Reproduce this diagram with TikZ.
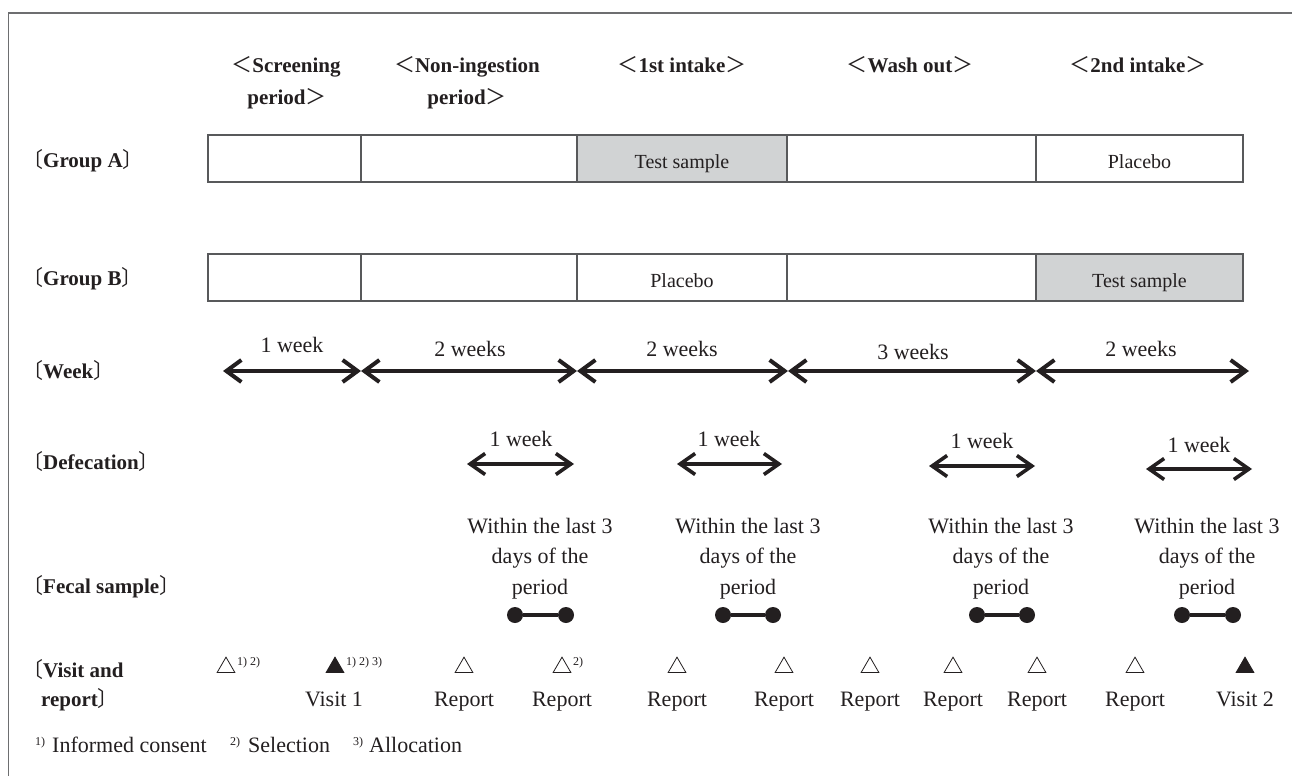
\documentclass[tikz,border=0pt]{standalone}
\usepackage{fontspec}
\setmainfont{Liberation Serif}
\newfontfamily\cjkf{Noto Sans CJK JP}
\usetikzlibrary{arrows.meta,shapes.geometric}
\definecolor{ink}{HTML}{231F20}
\definecolor{framec}{HTML}{6D6E70}
\definecolor{barc}{HTML}{58595B}
\definecolor{fillc}{HTML}{D1D3D4}
\newcommand{\fsz}[1]{\fontsize{#1}{#1}\selectfont}
\newcommand{\LB}{{\cjkf\mdseries 〔}}
\newcommand{\RB}{{\cjkf\mdseries 〕}}
\newcommand{\LA}{{\cjkf\mdseries ＜}}
\newcommand{\RA}{{\cjkf\mdseries ＞}}
\begin{document}
\begin{tikzpicture}[x=1pt,y=-1pt,
  txt/.style={inner sep=0pt, anchor=base, text=ink, font=\fsz{22}},
  hdr/.style={inner sep=0pt, anchor=base, text=ink, font=\fsz{21}\bfseries},
  rowlab/.style={inner sep=0pt, anchor=base west, text=ink, font=\fsz{21}\bfseries},
  bartxt/.style={inner sep=0pt, anchor=base, text=ink, font=\fsz{20}},
  cell/.style={draw=barc, line width=1.3pt, inner sep=0pt, minimum height=47pt},
  tipw/.tip={Straight Barb[length=15pt,width=22pt]},
  tipd/.tip={Straight Barb[length=15pt,width=21pt]},
  warrow/.style={draw=ink, line width=4pt, tipw-tipw},
  darrow/.style={draw=ink, line width=3.6pt, tipd-tipd},
  bar/.style={draw=ink, line width=3.4pt},
  dot/.style={circle, fill=ink, minimum size=16pt, inner sep=0pt},
  otri/.style={regular polygon, regular polygon sides=3, draw=ink, line width=0.8pt, minimum size=20.5pt, inner sep=0pt},
  ftri/.style={otri, fill=ink},
  supt/.style={inner sep=0pt, anchor=base west, text=ink, font=\fsz{12}},
  foot/.style={inner sep=0pt, anchor=base west, text=ink, font=\fsz{22}},
]
\useasboundingbox (0,0) rectangle (1292,776);
\fill[white] (0,0) rectangle (1292,776);
% frame
\coordinate (fbl) at (8.5,776);
\coordinate (ftl) at (8.5,13);
\coordinate (ftr) at (1292,13);
\draw[framec, line width=1.5pt] (fbl) -- (ftl) -- (ftr);

% headers
\node[hdr] (h1a) at (286,72) {\LA Screening};
\node[hdr] (h1b) at (287,104) {period\RA};
\node[hdr] (h2a) at (467,72) {\LA Non-ingestion};
\node[hdr] (h2b) at (467,104) {period\RA};
\node[hdr] (h3) at (682,72) {\LA 1st intake\RA};
\node[hdr] (h4) at (910,72) {\LA Wash out\RA};
\node[hdr] (h5) at (1138,72) {\LA 2nd intake\RA};

% row labels
\node[rowlab] (lA) at (22,167) {\LB Group A\RB};
\node[rowlab] (lB) at (22,285) {\LB Group B\RB};
\node[rowlab] (lW) at (22,378) {\LB Week\RB};
\node[rowlab] (lD) at (22,469) {\LB Defecation\RB};
\node[rowlab] (lF) at (22,593) {\LB Fecal sample\RB};
\node[rowlab] (lV1) at (22,677) {\LB Visit and};
\node[rowlab] (lV2) at (41,706) {report\RB};

% Group A bar
\node[cell, minimum width=153pt] (a1) at (284.5,158.5) {};
\node[cell, minimum width=216pt] (a2) at (469,158.5) {};
\node[cell, minimum width=210pt, fill=fillc] (a3) at (682,158.5) {};
\node[cell, minimum width=249pt] (a4) at (911.5,158.5) {};
\node[cell, minimum width=207pt] (a5) at (1139.5,158.5) {};
\node[bartxt] (ta3) at (682,168.5) {Test sample};
\node[bartxt] (ta5) at (1139.5,168.5) {Placebo};

% Group B bar
\node[cell, minimum width=153pt] (b1) at (284.5,277.5) {};
\node[cell, minimum width=216pt] (b2) at (469,277.5) {};
\node[cell, minimum width=210pt] (b3) at (682,277.5) {};
\node[cell, minimum width=249pt] (b4) at (911.5,277.5) {};
\node[cell, minimum width=207pt, fill=fillc] (b5) at (1139.5,277.5) {};
\node[bartxt] (tb3) at (682,287.5) {Placebo};
\node[bartxt] (tb5) at (1139.5,287.5) {Test sample};

% Week arrows
\coordinate (w0) at (223,371);
\coordinate (w1) at (361,371);
\coordinate (w2) at (577,371);
\coordinate (w3) at (788,371);
\coordinate (w4) at (1036,371);
\coordinate (w5) at (1249,371);
\draw[warrow] (w0) -- (w1);
\draw[warrow] (w1) -- (w2);
\draw[warrow] (w2) -- (w3);
\draw[warrow] (w3) -- (w4);
\draw[warrow] (w4) -- (w5);
\node[txt] (wl1) at (292,352) {1 week};
\node[txt] (wl2) at (470,356) {2 weeks};
\node[txt] (wl3) at (682,356) {2 weeks};
\node[txt] (wl4) at (913,359) {3 weeks};
\node[txt] (wl5) at (1141,356) {2 weeks};

% Defecation arrows
\coordinate (d1a) at (467,464); \coordinate (d1b) at (574,464);
\coordinate (d2a) at (677,464); \coordinate (d2b) at (782,464);
\coordinate (d3a) at (929,466); \coordinate (d3b) at (1035,466);
\coordinate (d4a) at (1146,469); \coordinate (d4b) at (1252,469);
\draw[darrow] (d1a) -- (d1b);
\draw[darrow] (d2a) -- (d2b);
\draw[darrow] (d3a) -- (d3b);
\draw[darrow] (d4a) -- (d4b);
\node[txt] (dl1) at (521,446) {1 week};
\node[txt] (dl2) at (729,446) {1 week};
\node[txt] (dl3) at (982,448) {1 week};
\node[txt] (dl4) at (1199,452) {1 week};

% Fecal sample texts
\foreach \i/\cx in {1/540,2/748,3/1001,4/1207}{
  \node[txt] (fa\i) at (\cx,533) {Within the last 3};
  \node[txt] (fb\i) at (\cx,563) {days of the};
  \node[txt] (fc\i) at (\cx,594) {period};
}
% dumbbells
\foreach \i/\xa/\xb in {1/515/566,2/723/773,3/977/1027,4/1182/1233}{
  \node[dot] (ea\i) at (\xa,615) {};
  \node[dot] (eb\i) at (\xb,615) {};
  \draw[bar] (ea\i) -- (eb\i);
}

% Visit and report
\node[otri] (v1) at (226,667.4) {};
\node[supt] (s1) at (237,665) {1) 2)};
\node[ftri] (v2) at (335,667.4) {};
\node[supt] (s2) at (346,665) {1) 2) 3)};
\node[otri] (v3) at (464,667.4) {};
\node[otri] (v4) at (562,667.4) {};
\node[supt] (s4) at (573,665) {2)};
\node[otri] (v5) at (677,667.4) {};
\node[otri] (v6) at (784,667.4) {};
\node[otri] (v7) at (870,667.4) {};
\node[otri] (v8) at (953,667.4) {};
\node[otri] (v9) at (1037,667.4) {};
\node[otri] (v10) at (1135,667.4) {};
\node[ftri] (v11) at (1245,667.4) {};

\node[txt] (r2) at (334,706) {Visit 1};
\node[txt] (r3) at (464,706) {Report};
\node[txt] (r4) at (562,706) {Report};
\node[txt] (r5) at (677,706) {Report};
\node[txt] (r6) at (784,706) {Report};
\node[txt] (r7) at (870,706) {Report};
\node[txt] (r8) at (953,706) {Report};
\node[txt] (r9) at (1037,706) {Report};
\node[txt] (r10) at (1135,706) {Report};
\node[txt] (r11) at (1245,706) {Visit 2};

% footnote
\node[supt] (n1) at (35,745) {1)};
\node[foot] (m1) at (52,752) {Informed consent};
\node[supt] (n2) at (230,745) {2)};
\node[foot] (m2) at (248,752) {Selection};
\node[supt] (n3) at (353,745) {3)};
\node[foot] (m3) at (369,752) {Allocation};
\end{tikzpicture}
\end{document}
